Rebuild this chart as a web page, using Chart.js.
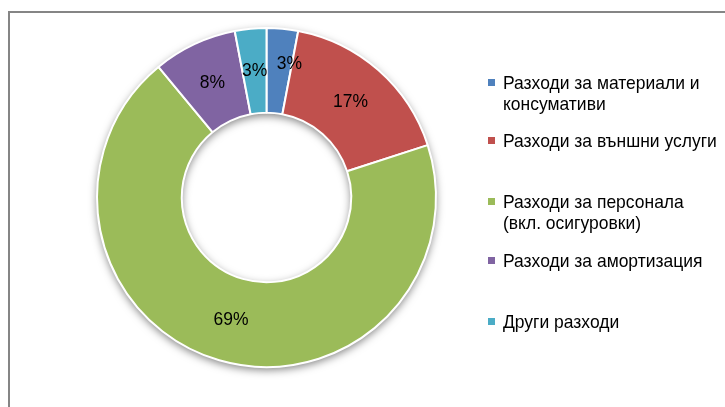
<!DOCTYPE html>
<html>
<head>
<meta charset="utf-8">
<script src="https://cdn.jsdelivr.net/npm/chart.js@4"></script>
<style>
  html, body { margin: 0; padding: 0; background: #fff; }
  #wrap { width: 725px; height: 407px; }
</style>
</head>
<body>
<div id="wrap"><canvas id="costChart" width="725" height="407"></canvas></div>
<script>
// Chart data
const categories = [
    ["Разходи за материали и", "консумативи"],
    ["Разходи за външни услуги"],
    ["Разходи за персонала", "(вкл. осигуровки)"],
    ["Разходи за амортизация"],
    ["Други разходи"]
];
const shares = [3, 17, 69, 8, 3];
const colors = ["#4F81BD", "#C0504D", "#9BBB59", "#8064A2", "#4BACC6"];

const FONT = "Arial, 'Liberation Sans', sans-serif";
const SQUEEZE = 0.92; // text in the original is a bit narrow

// grey frame around the chart object
const framePlugin = {
    id: "frame",
    beforeDraw(chart) {
        const c = chart.ctx;
        c.save();
        c.strokeStyle = "#858585";
        c.lineWidth = 2;
        c.strokeRect(9, 12, 900, 600);
        c.restore();
    }
};

// soft shadow under the ring (outside bottom and inside the hole)
const shadowPlugin = {
    id: "ringShadow",
    beforeDatasetsDraw(chart) {
        const arc = chart.getDatasetMeta(0).data[0];
        if (!arc) return;
        const c = chart.ctx;
        c.save();
        c.beginPath();
        c.arc(arc.x, arc.y, arc.outerRadius, 0, Math.PI * 2);
        c.arc(arc.x, arc.y, arc.innerRadius, 0, Math.PI * 2, true);
        c.closePath();
        c.shadowColor = "rgba(0,0,0,0.5)";
        c.shadowBlur = 8;
        c.shadowOffsetY = 3;
        c.fillStyle = "#fff";
        c.fill("evenodd");
        c.restore();
    }
};

function squeezedText(c, t, x, y) {
    c.save();
    c.translate(x, y);
    c.scale(SQUEEZE, 1);
    c.fillText(t, 0, 0);
    c.restore();
}

// percent labels in the middle of each segment
const labelPlugin = {
    id: "pctLabels",
    afterDatasetsDraw(chart) {
        const c = chart.ctx;
        c.save();
        c.font = "19px " + FONT;
        c.fillStyle = "#000";
        c.textAlign = "center";
        c.textBaseline = "middle";
        chart.getDatasetMeta(0).data.forEach((arc, i) => {
            const p = arc.tooltipPosition();
            let x = p.x, y = p.y;
            // the first small slice label is pushed aside, like in Excel
            if (i === 0) { x += 11; y -= 7; }
            squeezedText(c, shares[i] + "%", x, y);
        });
        c.restore();
    }
};

// legend on the right, with wrapped entries
const legendPlugin = {
    id: "sideLegend",
    afterDraw(chart) {
        const c = chart.ctx;
        const baselines = [89, 147, 208, 267, 328];
        c.save();
        c.font = "19px " + FONT;
        c.textBaseline = "alphabetic";
        c.textAlign = "left";
        categories.forEach((lines, i) => {
            const y = baselines[i];
            c.fillStyle = colors[i];
            c.fillRect(488, y - 10, 7, 7);
            c.fillStyle = "#000";
            lines.forEach((t, j) => squeezedText(c, t, 503, y + j * 21));
        });
        c.restore();
    }
};

const ctx = document.getElementById("costChart").getContext("2d");
const costChart = new Chart(ctx, {
    type: "doughnut",
    data: {
        labels: categories,
        datasets: [{
            data: shares,
            backgroundColor: colors,
            borderColor: "#fff",
            borderWidth: 2
        }]
    },
    options: {
        responsive: false,
        animation: false,
        cutout: "50%",
        layout: { padding: { left: 96, top: 27, right: 288, bottom: 39 } },
        plugins: {
            legend: { display: false },
            tooltip: { enabled: false }
        }
    },
    plugins: [framePlugin, shadowPlugin, labelPlugin, legendPlugin]
});
</script>
</body>
</html>
